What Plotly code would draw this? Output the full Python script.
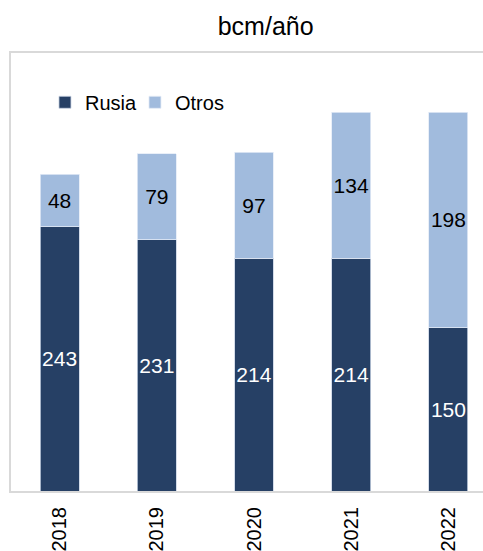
import plotly.graph_objects as go

years = ["2018", "2019", "2020", "2021", "2022"]
rusia = [243, 231, 214, 214, 150]
otros = [48, 79, 97, 134, 198]

FONT = "Liberation Sans, Arial, sans-serif"
DARK = "#264065"
LIGHT = "#A1BBDD"

fig = go.Figure()
fig.add_trace(go.Bar(
    x=years, y=rusia, name="Rusia",
    marker=dict(color=DARK, line=dict(color="#C9D3E3", width=0.8)),
    text=rusia, textposition="inside", insidetextanchor="middle",
    constraintext="none", textangle=0,
    textfont=dict(color="white", size=21, family=FONT),
))
fig.add_trace(go.Bar(
    x=years, y=otros, name="Otros",
    marker=dict(color=LIGHT, line=dict(color="#E3EBF6", width=0.8)),
    text=otros, textposition="inside", insidetextanchor="middle",
    constraintext="none", textangle=0,
    textfont=dict(color="black", size=21, family=FONT),
))

fig.update_layout(
    width=483, height=551,
    barmode="stack", bargap=0.6,
    margin=dict(l=11, r=0, t=53, b=60, autoexpand=False),
    paper_bgcolor="white", plot_bgcolor="white",
    font=dict(family=FONT, color="black", size=20),
    title=dict(text="bcm/año", x=0.55, xanchor="center", xref="container",
               y=1 - 26 / 551, yanchor="middle", yref="container",
               font=dict(size=25, family=FONT, color="black")),
    showlegend=True,
    legend=dict(orientation="h", x=0.072, xanchor="left", y=0.932, yanchor="top",
                font=dict(size=20, family=FONT, color="black"),
                bgcolor="rgba(0,0,0,0)", itemclick=False, traceorder="normal",
                entrywidth=45, entrywidthmode="pixels"),
    xaxis=dict(type="category", range=[-0.5, 4.5 - 14 / 97.2], automargin=False,
               showline=True, linecolor="#D9D9D9", linewidth=2, mirror=True,
               showgrid=False, tickangle=-90, ticks="outside", ticklen=6,
               tickcolor="rgba(0,0,0,0)",
               tickfont=dict(size=20, family=FONT, color="black")),
    yaxis=dict(range=[0, 402.4], automargin=False, showline=True,
               linecolor="#D9D9D9", linewidth=2,
               mirror=False, showgrid=False, zeroline=False, showticklabels=False,
               ticks=""),
)

fig.write_html("out.html", config={"displayModeBar": False},
               post_script="document.body.style.margin='0';document.body.style.overflow='hidden';")
